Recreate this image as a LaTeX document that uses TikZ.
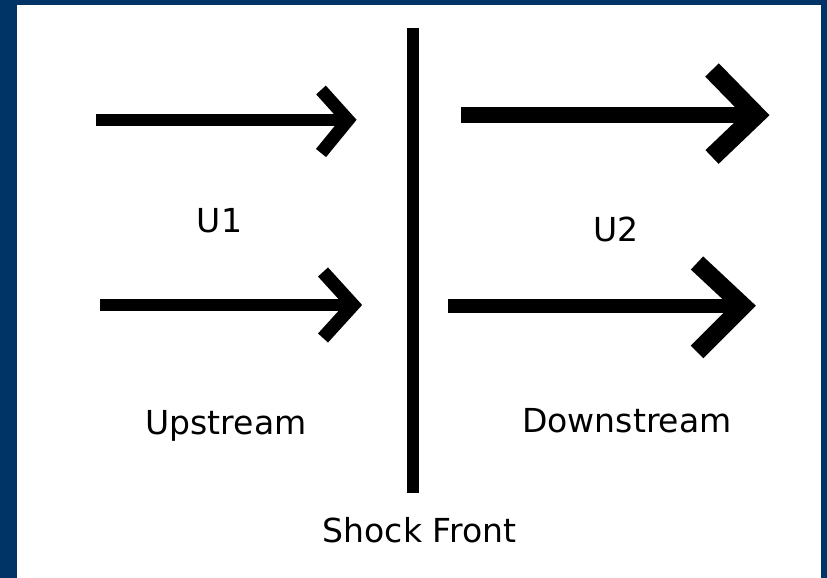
\documentclass[tikz,border=0pt]{standalone}
\usepackage{fontspec}
\setmainfont{DejaVu Sans}
\usepackage{tikz}
\definecolor{frameblue}{RGB}{0,51,102}
% shaft width, head width, tail, tip, upper barb, lower barb
\def\flowarrow#1#2(#3)(#4)(#5)(#6){\draw[line width=#1] (#3) -- (#4); \draw[line width=#2, line join=miter] (#5) -- (#4) -- (#6);}

\begin{document}
\begin{tikzpicture}
			%%%%% START %%%%%
			\tikzset{lbl/.style={inner sep=0pt, anchor=base, font=\fontsize{18.8}{22}\selectfont}}
			
			\fill[frameblue] (0, 0) rectangle (16.54, 11.56);
			\fill[white] (0.34, 0) rectangle (16.42, 11.46);
			
			% shock front
			\draw[line width=0.24cm] (8.26, 11.0) -- (8.26, 1.70);
			
			% upstream flow
			\flowarrow{0.24cm}{0.26cm}(1.92, 9.16)(6.96, 9.16)(6.42, 9.76)(6.42, 8.50)
			\flowarrow{0.25cm}{0.27cm}(2.00, 5.46)(7.06, 5.46)(6.46, 6.12)(6.46, 4.80)
			
			% downstream flow
			\flowarrow{0.32cm}{0.38cm}(9.22, 9.26)(15.12, 9.26)(14.24, 10.16)(14.24, 8.42)
			\flowarrow{0.28cm}{0.36cm}(8.96, 5.44)(14.86, 5.44)(13.94, 6.30)(13.94, 4.52)
			
			\node[lbl] (u1) at (4.39, 6.90) {U1};
			\node[lbl] (u2) at (12.32, 6.72) {U2};
			\node[lbl] (up) at (4.52, 2.86) {Upstream};
			\node[lbl] (down) at (12.54, 2.90) {Downstream};
			\node[lbl] (shock) at (8.39, 0.70) {Shock Front};
			
			%%%%% END %%%%%
		\end{tikzpicture}
\end{document}
